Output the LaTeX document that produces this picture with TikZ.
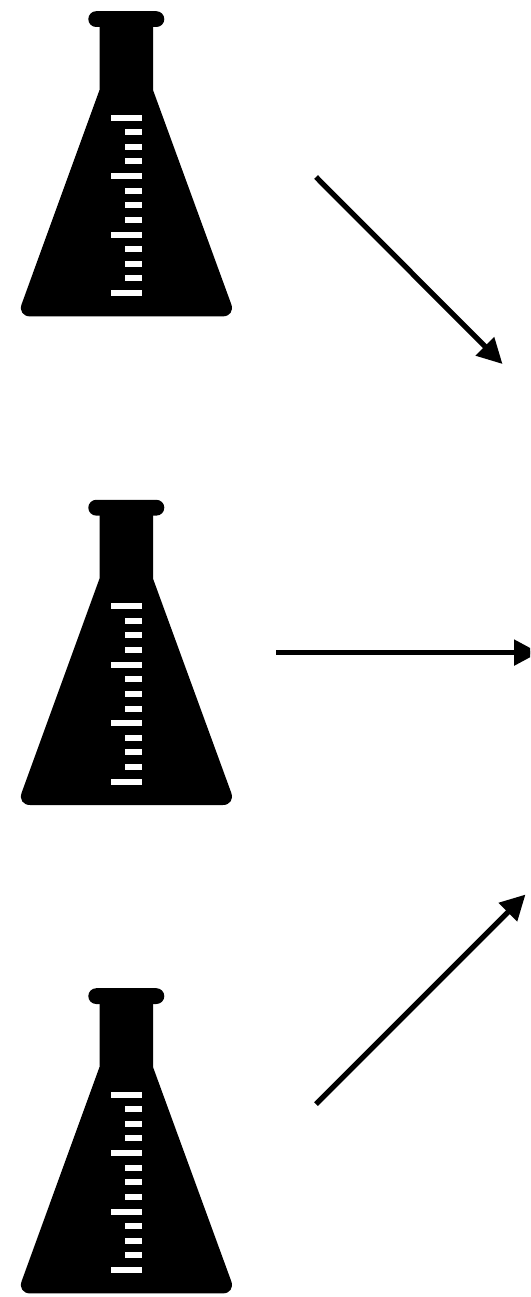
\documentclass[tikz,border=0pt]{standalone}
\usepackage{tikz}
\usetikzlibrary{arrows.meta}

\tikzset{flask/.pic={
    \fill[rounded corners=7.9pt] (88.3,11.2) rectangle (164.3,27);
    \fill (99.5,20) -- (153,20) -- (153,90)
      [rounded corners=13pt] -- (235.7,316.4) -- (17.2,316.4) [sharp corners] -- (99.5,90) -- cycle;
    \foreach \i in {0,...,12} {
      \pgfmathsetmacro{\ypos}{117.6+14.625*\i}
      \pgfmathtruncatemacro{\major}{mod(\i,4)==0 ? 1 : 0}
      \ifnum\major=1
        \fill[white] (110.7,\ypos-3) rectangle (141.7,\ypos+3);
      \else
        \fill[white] (124.7,\ypos-3) rectangle (141.7,\ypos+3);
      \fi
    }
}}

\begin{document}
\begin{tikzpicture}[x=1pt, y=-1pt]
    \tikzstyle{feed} = [-{Triangle[length=25pt, width=25pt]}, line width=5.3pt]
    \useasboundingbox (0,0) rectangle (530,1297);
    \clip (0,0) rectangle (530,1297);
    \pic (flasktop) at (0,0) {flask};
    \pic (flaskmid) at (0,488.6) {flask};
    \pic (flaskbot) at (0,977) {flask};
    \coordinate (topstart) at (316,177);
    \coordinate (topend) at (502.5,364);
    \coordinate (midstart) at (276,652.6);
    \coordinate (midend) at (539,652.6);
    \coordinate (botstart) at (316,1104);
    \coordinate (botend) at (525.5,894.5);
    \draw[feed] (topstart) -- (topend);
    \draw[feed] (midstart) -- (midend);
    \draw[feed] (botstart) -- (botend);
\end{tikzpicture}
\end{document}
